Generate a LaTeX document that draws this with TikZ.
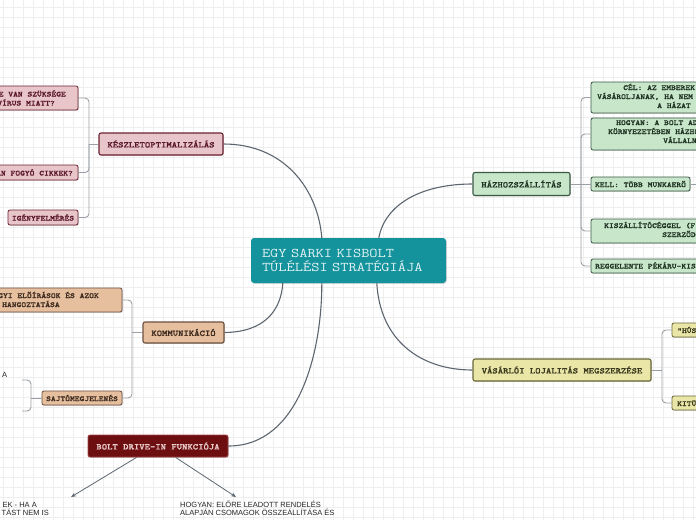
\documentclass[tikz,border=0pt]{standalone}
\usepackage{fontspec}
\setsansfont{Liberation Sans}
\newfontfamily\crn{Latin Modern Mono}[FakeStretch=1.2]
\newfontfamily\crb{lmmonolt10-bold.otf}[FakeStretch=1.2,FakeBold=1.2]
\usetikzlibrary{shadows,arrows.meta}
\definecolor{gridC}{HTML}{EEEEEE}
\definecolor{tealF}{HTML}{14939D}
\definecolor{tealT}{HTML}{E2F2F2}
\definecolor{pinkF}{HTML}{E8C5C9}
\definecolor{pinkD}{HTML}{6D2232}
\definecolor{pinkT}{HTML}{5A1828}
\definecolor{tanF}{HTML}{E6BF9F}
\definecolor{tanD}{HTML}{6E5040}
\definecolor{tanT}{HTML}{3D2A1E}
\definecolor{drF}{HTML}{6D0E10}
\definecolor{drD}{HTML}{A04545}
\definecolor{drT}{HTML}{EBCFCF}
\definecolor{grnF}{HTML}{C8E6CA}
\definecolor{grnD}{HTML}{3A5A45}
\definecolor{grnT}{HTML}{1F3322}
\definecolor{yelF}{HTML}{EAE6A7}
\definecolor{yelD}{HTML}{6B6839}
\definecolor{yelT}{HTML}{3B3A1F}
\definecolor{connC}{HTML}{5D6670}
\definecolor{brkC}{HTML}{9AA0A6}
\begin{document}
\begin{tikzpicture}[x=1pt,y=-1pt,
  shd/.style={drop shadow={shadow xshift=0.8pt,shadow yshift=-0.8pt,opacity=0.3}},
  box/.style={draw, rounded corners=2pt, inner sep=0pt, line width=0.8pt, shd,
    font=\crb\fontsize{7.6}{9}\selectfont},
  mainbox/.style={box, line width=1.1pt, font=\crb\fontsize{8.5}{9}\selectfont},
  pinkbox/.style={fill=pinkF, draw=pinkD, text=pinkT},
  tanbox/.style={fill=tanF, draw=tanD, text=tanT},
  grnbox/.style={fill=grnF, draw=grnD, text=grnT},
  yelbox/.style={fill=yelF, draw=yelD, text=yelT},
  ctxt/.style={inner sep=0pt, font=\crb\fontsize{7.6}{9}\selectfont},
  stxt/.style={inner sep=0pt, text=black!85, font=\sffamily\fontsize{7.5}{8.5}\selectfont},
  conn/.style={draw=connC, line width=1.1pt},
  brk/.style={draw=brkC, line width=0.9pt, rounded corners=4pt},
  arr/.style={draw=connC, line width=0.8pt, -{Stealth[length=5pt,width=4pt]}}
]
\clip (0,0) rectangle (696,520);
\fill[white] (0,0) rectangle (696,520);
\foreach \gx in {3.3,13.3,...,693.3} \draw[gridC, line width=0.6pt] (\gx,0) -- (\gx,520);
\foreach \gy in {7.3,17.3,...,517.3} \draw[gridC, line width=0.6pt] (0,\gy) -- (696,\gy);

% central node
\node[fill=tealF, rounded corners=3pt, shd, text=tealT, minimum width=195pt, minimum height=45pt,
  text width=173pt, inner xsep=11pt, inner ysep=0pt, align=left,
  font=\crn\fontsize{13.3}{14.5}\selectfont] (ctr) at (348.5,260.5) {EGY SARKI KISBOLT\\TÚLÉLÉSI STRATÉGIÁJA};

% main branches
\node[mainbox, pinkbox, minimum width=124pt, minimum height=22pt] (kesz) at (161,144) {KÉSZLETOPTIMALIZÁLÁS};
\node[mainbox, tanbox, minimum width=81pt, minimum height=21pt] (komm) at (183.5,332.5) {KOMMUNIKÁCIÓ};
\node[mainbox, fill=drF, draw=drD, text=drT, line width=0.8pt, minimum width=140pt, minimum height=22pt] (drive) at (158,446) {BOLT DRIVE-IN FUNKCIÓJA};
\node[mainbox, grnbox, minimum width=97pt, minimum height=23pt] (haz) at (521.5,184) {HÁZHOZSZÁLLÍTÁS};
\node[mainbox, yelbox, minimum width=178pt, minimum height=22pt] (vas) at (562,370) {VÁSÁRLÓI LOJALITÁS MEGSZERZÉSE};

% main connectors
\draw[conn] (kesz.east) .. controls (285,144) and (318,190) .. ([xshift=71pt]ctr.north west);
\draw[conn] ([xshift=128pt]ctr.north west) .. controls (385,205) and (420,184) .. (haz.west);
\draw[conn] (komm.east) .. controls (265,332) and (281,310) .. ([xshift=32pt]ctr.south west);
\draw[conn] (drive.east) .. controls (300,446) and (322,350) .. ([xshift=71pt]ctr.south west);
\draw[conn] ([xshift=126pt]ctr.south west) .. controls (380,340) and (420,370) .. (vas.west);

% pink children
\node[box, pinkbox, minimum width=118pt, minimum height=24pt] (pk1) at (19,98) {};
\node[ctxt, text=pinkT, anchor=base east] (pk1a) at (66,96.5) {E VAN SZÜKSÉGE};
\node[ctxt, text=pinkT, anchor=base east] (pk1b) at (55,105.5) {VÍRUS MIATT?};
\node[box, pinkbox, minimum width=118pt, minimum height=15pt] (pk2) at (19,172.5) {};
\node[ctxt, text=pinkT, anchor=base east] (pk2a) at (73,175.5) {AN FOGYÓ CIKKEK?};
\node[box, pinkbox, minimum width=70pt, minimum height=15pt] (pk3) at (43,217.5) {IGÉNYFELMÉRÉS};
\coordinate (pkj) at (89,144);
\draw[brk] (kesz.west) -- (pkj);
\draw[brk] (pk1.east) -| (pkj);
\draw[brk] (pk2.east) -| (pkj);
\draw[brk] (pk3.east) -| (pkj);

% tan children
\node[box, tanbox, minimum width=162pt, minimum height=24pt] (tn1) at (41,300) {};
\node[ctxt, text=tanT, anchor=base east] (tn1a) at (99,298) {GYI ELŐÍRÁSOK ÉS AZOK};
\node[ctxt, text=tanT, anchor=base west] (tn1b) at (2,307) {HANGOZTATÁSA};
\node[box, tanbox, minimum width=80pt, minimum height=14pt] (saj) at (82,398) {SAJTÓMEGJELENÉS};
\coordinate (tj) at (132,332.5);
\draw[brk] (komm.west) -- (tj);
\draw[brk] (tn1.east) -| (tj);
\draw[brk] (saj.east) -| (tj);

% sajtó children
\node[stxt, anchor=base west] (sa1t) at (2,377) {A};
\coordinate (sa1) at (22,380);
\coordinate (sa2) at (22,411);
\coordinate (sj) at (31,398);
\draw[brk] (saj.west) -- (sj);
\draw[brk] (sa1) -| (sj);
\draw[brk] (sa2) -| (sj);

% drive-in children
\node[stxt, anchor=base east] (dl1) at (37,507) {EK - HA A};
\node[stxt, anchor=base east] (dl2) at (49,515.5) {TÁST NEM IS};
\node[stxt, anchor=base west] (dr1) at (180,507) {HOGYAN: ELŐRE LEADOTT RENDELÉS};
\node[stxt, anchor=base west] (dr2) at (180,515.5) {ALAPJÁN CSOMAGOK ÖSSZEÁLLÍTÁSA ÉS};
\coordinate (da1) at (71,497);
\coordinate (da2) at (236,497);
\draw[arr] ([xshift=49pt]drive.south west) -- (da1);
\draw[arr] ([xshift=88pt]drive.south west) -- (da2);

% green children
\node[box, grnbox, minimum width=169pt, minimum height=31pt] (g1) at (675.5,97.5) {};
\node[ctxt, text=grnT, anchor=base west] (g1a) at (623,90) {CÉL: AZ EMBEREK};
\node[ctxt, text=grnT, anchor=base west] (g1b) at (597,99) {VÁSÁROLJANAK, HA NEM};
\node[ctxt, text=grnT, anchor=base west] (g1c) at (657,108) {A HÁZAT};
\node[box, grnbox, minimum width=169pt, minimum height=32pt] (g2) at (675.5,134) {};
\node[ctxt, text=grnT, anchor=base west] (g2a) at (616,125) {HOGYAN: A BOLT AD};
\node[ctxt, text=grnT, anchor=base west] (g2b) at (608,134) {KÖRNYEZETÉBEN HÁZHO};
\node[ctxt, text=grnT, anchor=base west] (g2c) at (663,143) {VÁLLALN};
\node[box, grnbox, minimum width=99pt, minimum height=14pt] (g3) at (640.5,184) {KELL: TÖBB MUNKAERŐ};
\node[box, grnbox, minimum width=169pt, minimum height=24pt] (g4) at (675.5,231) {};
\node[ctxt, text=grnT, anchor=base west] (g4a) at (604,228) {KISZÁLLÍTÓCÉGGEL (F};
\node[ctxt, text=grnT, anchor=base west] (g4b) at (662,237) {SZERZŐD};
\node[box, grnbox, minimum width=169pt, minimum height=14pt] (g5) at (675.5,266) {};
\node[ctxt, text=grnT, anchor=base west] (g5a) at (595,268.5) {REGGELENTE PÉKÁRU-KIS};
\coordinate (gj) at (581,184);
\draw[brk] (haz.east) -- (gj);
\draw[brk] (g1.west) -| (gj);
\draw[brk] (g2.west) -| (gj);
\draw[brk] (g3.west) -- (gj);
\draw[brk] (g4.west) -| (gj);
\draw[brk] (g5.west) -| (gj);
\coordinate (g3o) at (710,184);
\draw[brk] (g3.east) -- (g3o);

% yellow children
\node[box, yelbox, minimum width=88pt, minimum height=14pt] (y1) at (716,330) {};
\node[ctxt, text=yelT, anchor=base west] (y1a) at (677,333) {"HÚS};
\node[box, yelbox, minimum width=88pt, minimum height=14pt] (y2) at (716,403) {};
\node[ctxt, text=yelT, anchor=base west] (y2a) at (677,406) {KITÜ};
\coordinate (yj) at (662,370);
\draw[brk] (vas.east) -- (yj);
\draw[brk] (y1.west) -| (yj);
\draw[brk] (y2.west) -| (yj);
\end{tikzpicture}
\end{document}
